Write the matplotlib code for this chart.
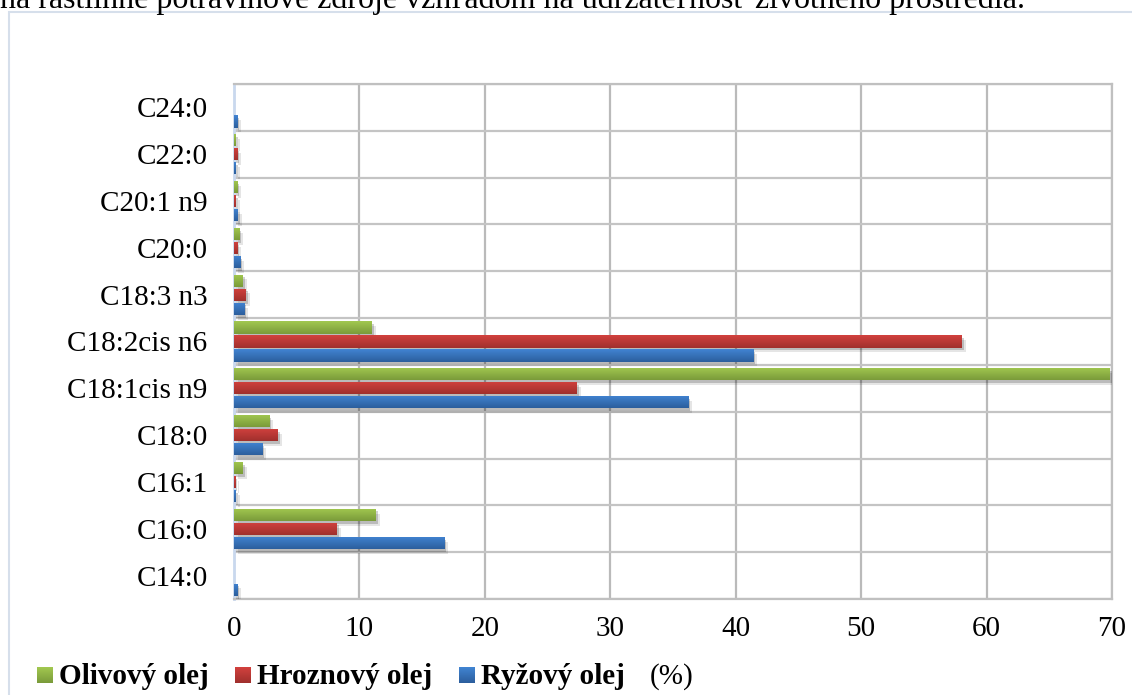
import numpy as np
import matplotlib
matplotlib.use("Agg")
import matplotlib.pyplot as plt
from matplotlib import patheffects
from matplotlib.colors import LinearSegmentedColormap
from matplotlib.patches import Rectangle

# fatty acid profile of three oils, in %
categories = ['C14:0', 'C16:0', 'C16:1', 'C18:0', 'C18:1cis n9', 'C18:2cis n6',
              'C18:3 n3', 'C20:0', 'C20:1 n9', 'C22:0', 'C24:0']
olive = [0.0, 11.3, 0.7, 2.8, 69.8, 11.0, 0.7, 0.4, 0.25, 0.15, 0.0]
grape = [0.0, 8.2, 0.1, 3.5, 27.3, 58.0, 0.95, 0.25, 0.15, 0.25, 0.0]
rice = [0.25, 16.75, 0.15, 2.25, 36.2, 41.4, 0.8, 0.5, 0.3, 0.15, 0.25]
series_names = ['Olivový olej', 'Hroznový olej', 'Ryžový olej']
xticks = [0, 10, 20, 30, 40, 50, 60, 70]

# (top colour, bottom colour) of each bar gradient
shades = [('#a2c850', '#7a9b3a'), ('#d2413e', '#a0302d'), ('#4184d2', '#2c5e9d')]

plt.rcParams['font.family'] = ['Liberation Serif', 'DejaVu Serif']

W, H = 1132, 695
fig = plt.figure(figsize=(W / 100, H / 100), dpi=100)

# frame of the chart area and the caption line cut at the top
fig.add_artist(Rectangle((9 / W, -0.1), 1.2, 1 - 12 / H + 0.1, transform=fig.transFigure,
                         fill=False, edgecolor='#d6dfeb', linewidth=1.5))
fig.text(0, 1 - 8 / H, 'na rastlinné potravinové zdroje vzhľadom na udržateľnosť životného prostredia.',
         fontsize=23, va='baseline', ha='left')

left, right, top, bottom = 234, 1112, 84, 599
ax = fig.add_axes([left / W, 1 - bottom / H, (right - left) / W, (bottom - top) / H])

y = np.arange(len(categories))
offsets = [0.3, 0.0, -0.3]
bar_h = 0.26

shadow = [patheffects.SimplePatchShadow(offset=(3, -3.5), shadow_rgbFace='#000000', alpha=0.10),
          patheffects.SimplePatchShadow(offset=(1.5, -2), shadow_rgbFace='#000000', alpha=0.18),
          patheffects.Normal()]

for vals, off, (c_top, c_bot) in zip([olive, grape, rice], offsets, shades):
    cmap = LinearSegmentedColormap.from_list('g', [c_bot, c_top])
    bars = ax.barh(y + off, vals, height=bar_h, color=c_top, linewidth=0, zorder=3)
    for b in bars:
        if b.get_width() <= 0:
            b.set_visible(False)
            continue
        b.set_path_effects(shadow)
        x0, y0 = b.get_x(), b.get_y()
        grad = np.linspace(0, 1, 64).reshape(-1, 1)
        im = ax.imshow(grad, cmap=cmap, aspect='auto', origin='lower',
                       extent=[x0, x0 + b.get_width(), y0, y0 + b.get_height()], zorder=3.1)
        im.set_clip_path(b)

ax.set_xlim(0, 70)
ax.set_ylim(-0.5, len(categories) - 0.5)
ax.set_xticks(xticks)
ax.set_yticks(y)
ax.set_yticklabels(categories)
ax.set_yticks(np.arange(len(categories) + 1) - 0.5, minor=True)

ax.set_axisbelow(True)
ax.grid(axis='x', which='major', color='#bababa', linewidth=1.6)
ax.grid(axis='y', which='minor', color='#c4c4c4', linewidth=1.6)
ax.tick_params(axis='both', which='both', length=0, labelsize=21)
ax.tick_params(axis='x', pad=12)
ax.tick_params(axis='y', pad=19)

for side in ['top', 'right', 'bottom']:
    ax.spines[side].set_color('#c0c0c0')
    ax.spines[side].set_linewidth(1.6)
ax.spines['left'].set_color('#c9d8ee')
ax.spines['left'].set_linewidth(2)

# legend row along the bottom
legend_x = [37, 235, 459]
for (c_top, c_bot), name, lx in zip(shades, series_names, legend_x):
    cmap = LinearSegmentedColormap.from_list('g', [c_bot, c_top])
    lax = fig.add_axes([lx / W, 1 - 683 / H, 16 / W, 16 / H])
    lax.imshow(np.linspace(0, 1, 32).reshape(-1, 1), cmap=cmap, aspect='auto', origin='lower')
    lax.set_axis_off()
    fig.text((lx + 22) / W, 1 - 684 / H, name, fontsize=21, fontweight='bold',
             va='baseline', ha='left')
fig.text(650 / W, 1 - 684 / H, '(%)', fontsize=21, va='baseline', ha='left')

fig.savefig('out.png', dpi=100)
